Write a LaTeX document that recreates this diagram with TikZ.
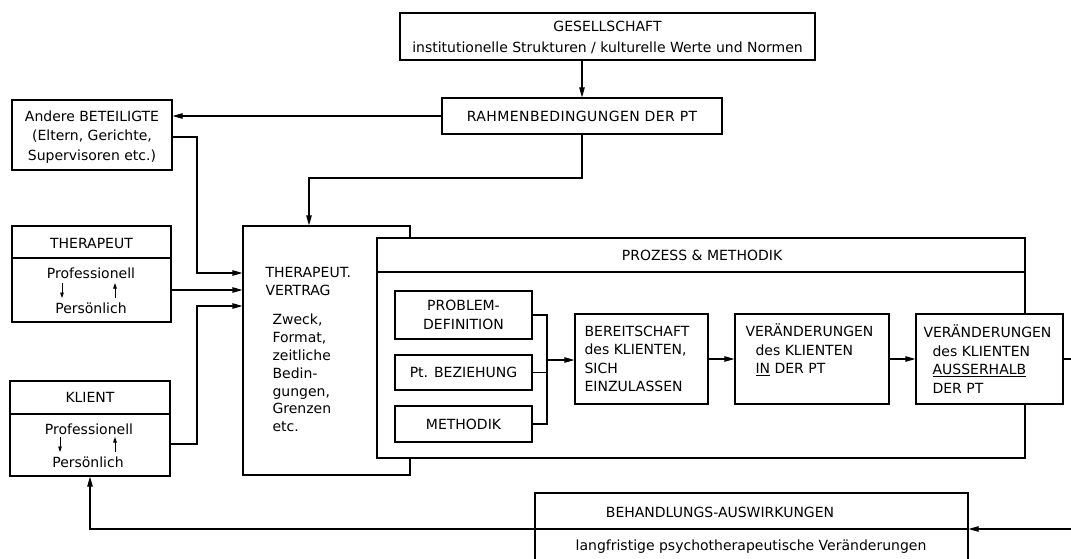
\documentclass[tikz,border=0pt]{standalone}
\usepackage{fontspec}
\setmainfont{DejaVu Sans}
\usetikzlibrary{arrows.meta,calc}
\begin{document}
\begin{tikzpicture}[x=1pt,y=-1pt,
  line width=1.1pt,
  box/.style={draw, line width=1.1pt, inner sep=0pt, fill=white},
  txt/.style={inner sep=0pt, font=\fontsize{14}{18.5}\selectfont},
  arr/.style={-{Triangle[length=10pt,width=5.4pt]}, line width=1.1pt},
  minor/.style={-{Triangle[length=5.5pt,width=3.6pt]}, line width=0.8pt},
]
\clip (0,0) rectangle (1071,558);
\fill[white] (0,0) rectangle (1071,558);

% society and framework conditions
\node[box, minimum width=415pt, minimum height=47pt] (gesell) at (607.5,36.5) {};
\node[txt, align=center, font=\fontsize{14}{21}\selectfont] (gesellT) at (607.5,37)
  {GESELLSCHAFT\\institutionelle Strukturen / kulturelle Werte und Normen};
\node[box, txt, minimum width=280pt, minimum height=36pt] (rahmen) at (582,116)
  {\addfontfeatures{LetterSpace=3}RAHMENBEDINGUNGEN DER PT};

% other parties
\node[box, minimum width=160pt, minimum height=70pt] (andere) at (92,135) {};
\node[txt, align=center, font=\fontsize{14}{19.5}\selectfont] (andereT) at (92,137)
  {Andere BETEILIGTE\\(Eltern, Gerichte,\\Supervisoren etc.)};

% therapist
\node[box, minimum width=159pt, minimum height=96pt] (therapeut) at (91.5,274) {};
\draw (therapeut.west |- 0,258) -- (therapeut.east |- 0,258);
\node[txt] (therapeutT) at (91.5,243) {THERAPEUT};
\node[txt] (therapeutP) at (91,273) {Professionell};
\node[txt] (therapeutQ) at (91,308) {Persönlich};
\draw[minor] (62,283) -- (62,298);
\draw[minor] (115,298) -- (115,283);

% client
\node[box, minimum width=160pt, minimum height=95pt] (klient) at (90,428.5) {};
\draw (klient.west |- 0,414) -- (klient.east |- 0,414);
\node[txt] (klientT) at (90,397) {KLIENT};
\node[txt] (klientP) at (89,429) {Professionell};
\node[txt] (klientQ) at (88,462) {Persönlich};
\draw[minor] (60,437) -- (60,452);
\draw[minor] (115,452) -- (115,437);

% therapeutic contract
\node[box, minimum width=167pt, minimum height=249pt] (vertrag) at (326.5,350.5) {};
\node[txt, align=left, anchor=west, font=\fontsize{14}{18}\selectfont] (vertragT) at (265,281)
  {THERAPEUT.\\VERTRAG};
\node[txt, align=left, anchor=west, font=\fontsize{14}{17.8}\selectfont] (vertragI) at (272,373)
  {Zweck,\\Format,\\zeitliche\\Bedin-\\gungen,\\Grenzen\\etc.};

% process and method
\node[box, minimum width=648pt, minimum height=220pt] (prozess) at (701,348) {};
\draw (prozess.west |- 0,272) -- (prozess.east |- 0,272);
\node[txt] (prozessT) at (702,255) {PROZESS \& METHODIK};

\node[box, txt, align=center, minimum width=137pt, minimum height=48pt] (problem) at (463.5,315)
  {PROBLEM-\\DEFINITION};
\node[box, txt, minimum width=137pt, minimum height=35pt] (pt) at (463.5,372.5) {Pt. BEZIEHUNG};
\node[box, txt, minimum width=137pt, minimum height=36pt] (methodik) at (463.5,424) {METHODIK};

\node[box, minimum width=133pt, minimum height=90pt] (bereit) at (641.5,359) {};
\node[txt, align=left, anchor=west] (bereitT) at (584,359)
  {BEREITSCHAFT\\des KLIENTEN,\\SICH\\EINZULASSEN};

\node[box, minimum width=154pt, minimum height=90pt] (veraend) at (812,359) {};
\node[txt, align=left, anchor=west] (veraendT) at (745,350)
  {VERÄNDERUNGEN\\\hspace*{10pt}des KLIENTEN\\\hspace*{10pt}\underline{IN} DER PT};

\node[box, minimum width=147pt, minimum height=90pt] (ausser) at (989.5,359) {};
\node[txt, align=left, anchor=west] (ausserT) at (923,359)
  {VERÄNDERUNGEN\\\hspace*{9pt}des KLIENTEN\\\hspace*{9pt}\underline{AUSSERHALB}\\\hspace*{9pt}DER PT};

% treatment outcomes
\node[box, minimum width=433pt, minimum height=82pt] (behand) at (751.5,534) {};
\draw (behand.west |- 0,529) -- (behand.east |- 0,529);
\node[txt] (behandT) at (720,512) {BEHANDLUNGS-AUSWIRKUNGEN};
\node[txt] (behandL) at (751,547) {langfristige psychotherapeutische Veränderungen};

\coordinate (exitR) at (1071,359);
\coordinate (inR) at (1071,529);
\coordinate (join) at (547,360);

% connectors
\draw[arr] (gesell.south -| rahmen.north) -- (rahmen.north);
\draw[arr] (rahmen.west) -- (rahmen.west -| andere.east);
\draw[arr] (rahmen.south) |- (309,178) -- (vertrag.north -| 309,0);
\draw[arr] (andere.east |- 0,137) -| (197,273) -- (vertrag.west |- 0,273);
\draw[arr] (therapeut.east |- 0,290) -- (vertrag.west |- 0,290);
\draw[arr] (klient.east |- 0,444) -| (197,306) -- (vertrag.west |- 0,306);

\draw (problem.east) -| (join |- methodik.east) -- (methodik.east);
\draw (pt.east) -- (pt.east -| join);
\draw[arr] (join) -- (join -| bereit.west);
\draw[arr] (bereit.east) -- (veraend.west);
\draw[arr] (veraend.east) -- (ausser.west);
\draw (ausser.east) -- (exitR);

\draw[arr] (inR) -- (inR -| behand.east);
\draw[arr] (behand.west |- inR) -| (klient.south);
\end{tikzpicture}
\end{document}
